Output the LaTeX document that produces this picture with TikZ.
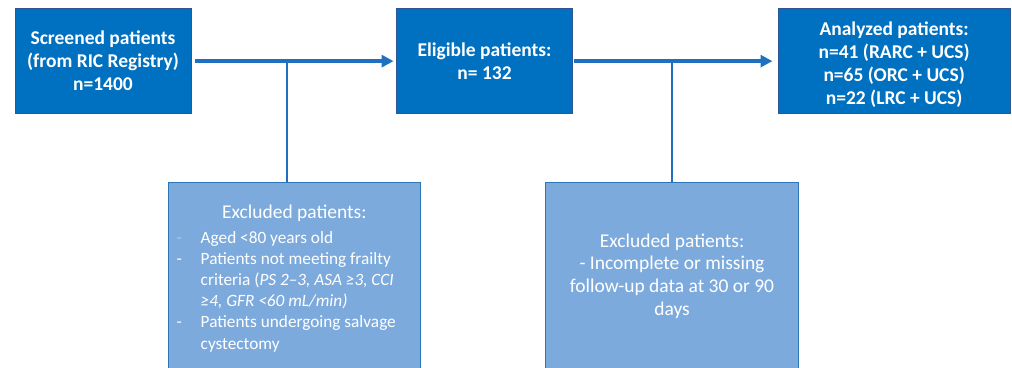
\documentclass[tikz,border=0pt]{standalone}
\usepackage{fontspec}
\setmainfont{Carlito}
\usetikzlibrary{arrows.meta, positioning}
\definecolor{boxblue}{RGB}{0, 112, 192}
\definecolor{boxedge}{RGB}{47, 85, 151}
\definecolor{exclblue}{RGB}{125, 170, 221}
\definecolor{excledge}{RGB}{46, 117, 182}
\definecolor{linkblue}{RGB}{31, 112, 193}
\definecolor{fadedash}{RGB}{170, 200, 235}
\tikzset{
    mainbox/.style={rectangle, draw=boxedge, fill=boxblue, text=white, line width=0.6pt, minimum width=4.66cm, minimum height=2.78cm, align=center, font=\fontsize{14.7}{17.3}\selectfont\bfseries},
    exclbox/.style={rectangle, draw=excledge, fill=exclblue, text=white, line width=0.6pt, minimum width=6.7cm, minimum height=4.98cm, anchor=north, align=center, font=\fontsize{14.7}{17.3}\selectfont},
    arrow/.style={-{Triangle[length=9pt, width=9pt]}, linkblue, line width=3pt},
    stem/.style={linkblue, line width=1.1pt}
}

\begin{document}
\begin{tikzpicture}[node distance=1.8cm and 5.43cm]
            \useasboundingbox (0,0) rectangle (26.82,-9.73);
            \clip (0,0) rectangle (26.82,-9.73);

            \node (screened) [mainbox] at (2.73,-1.62) {Screened patients \\ (from RIC Registry) \\ n=1400};
            \node (eligible) [mainbox, right=of screened] {Eligible patients: \\ n= 132};
            \node (analyzed) [mainbox, minimum width=6.15cm, right=of eligible] {\rule{0pt}{16pt}Analyzed patients: \\ n=41 (RARC + UCS) \\ n=65 (ORC + UCS) \\ n=22 (LRC + UCS)};

            \node (exclfrail) [exclbox] at (7.8,-4.82) {\rule{0pt}{16pt}Excluded patients: \\[1.5pt]
                {\fontsize{13}{16}\selectfont
                \begin{tabular}[t]{@{}p{0.64cm}@{}p{5.6cm}@{}}
                \textcolor{fadedash}{-} & Aged <80 years old \\
                - & Patients not meeting frailty \\
                  & criteria (\textit{PS 2–3, ASA ≥3, CCI} \\
                  & \textit{≥4, GFR <60 mL/min)} \\
                - & Patients undergoing salvage \\
                  & cystectomy
                \end{tabular}}};
            \node (excldata) [exclbox] at (17.81,-4.82) {Excluded patients: \\ - Incomplete or missing \\ follow-up data at 30 or 90 \\ days};

            \draw [arrow, shorten <=3pt, shorten >=2pt] (screened) -- (eligible);
            \draw [arrow, shorten <=1pt, shorten >=4pt] (eligible) -- (analyzed);
            \draw [stem] ([xshift=-0.2cm]exclfrail.north) -- ([xshift=-0.2cm]exclfrail.north |- screened.east);
            \draw [stem] (excldata.north) -- (excldata.north |- eligible.east);
        \end{tikzpicture}
\end{document}
